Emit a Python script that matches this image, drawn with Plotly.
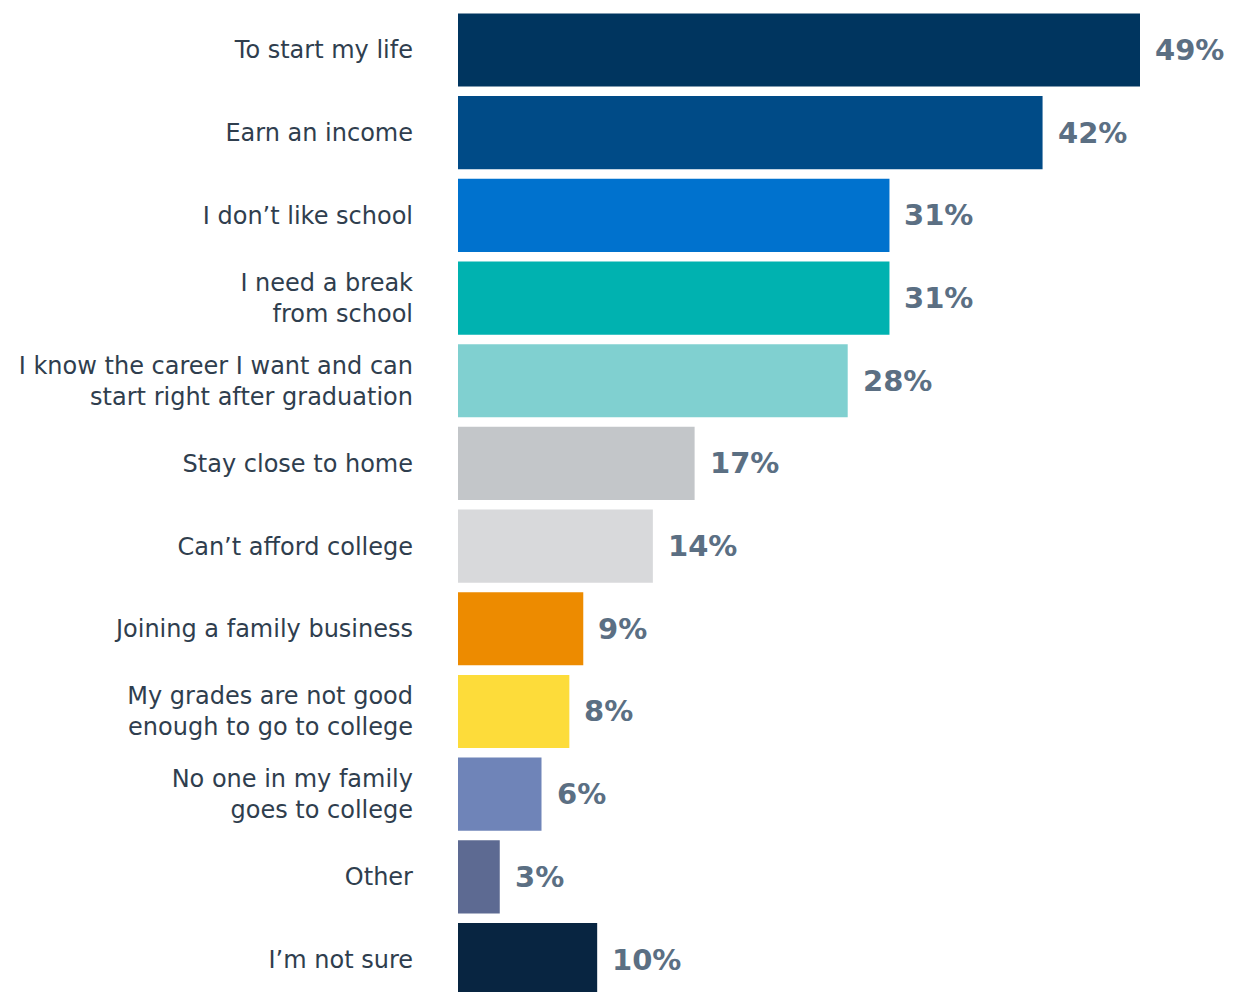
import plotly.graph_objects as go

# Reasons given, in display order (top to bottom)
categories = [
    "To start my life",
    "Earn an income",
    "I don’t like school",
    "I need a break<br>from school",
    "I know the career I want and can<br>start right after graduation",
    "Stay close to home",
    "Can’t afford college",
    "Joining a family business",
    "My grades are not good<br>enough to go to college",
    "No one in my family<br>goes to college",
    "Other",
    "I’m not sure",
]
values = [49, 42, 31, 31, 28, 17, 14, 9, 8, 6, 3, 10]
bar_colors = [
    "#00355f", "#004b87", "#0072ce", "#00b2b0", "#80d0d0", "#c3c6c9",
    "#d8d9db", "#ed8b00", "#fddc3a", "#6f84b8", "#5d6a92", "#082541",
]

LABEL_FONT = "DejaVu Sans, Verdana, sans-serif"

fig = go.Figure(
    go.Bar(
        x=values,
        y=list(range(len(categories))),
        orientation="h",
        marker=dict(color=bar_colors, line=dict(width=0)),
        width=0.885,
        hoverinfo="skip",
    )
)

# Value labels to the right of each bar
for i, v in enumerate(values):
    fig.add_annotation(
        x=v, y=i, text=f"{v}%", showarrow=False,
        xanchor="left", yanchor="middle", xshift=13,
        font=dict(family=LABEL_FONT, size=29, color="#5b6f83", weight="bold"),
    )

# scale so that one percentage point spans ~13.9 px of the plot width
px_per_unit = (1140 - 458) / 49

fig.update_layout(
    width=1236, height=992,
    margin=dict(l=458, r=0, t=0, b=0),
    paper_bgcolor="white", plot_bgcolor="white",
    showlegend=False,
    xaxis=dict(range=[0, (1236 - 458) / px_per_unit], visible=False, fixedrange=True),
    yaxis=dict(
        range=[11.393, -0.605],
        tickmode="array",
        tickvals=list(range(len(categories))),
        ticktext=categories,
        ticks="", showgrid=False, zeroline=False, showline=False,
        ticklabelstandoff=44,
        tickfont=dict(family=LABEL_FONT, size=24, color="#2f3e4e"),
    ),
)

fig.write_html("out.html")
